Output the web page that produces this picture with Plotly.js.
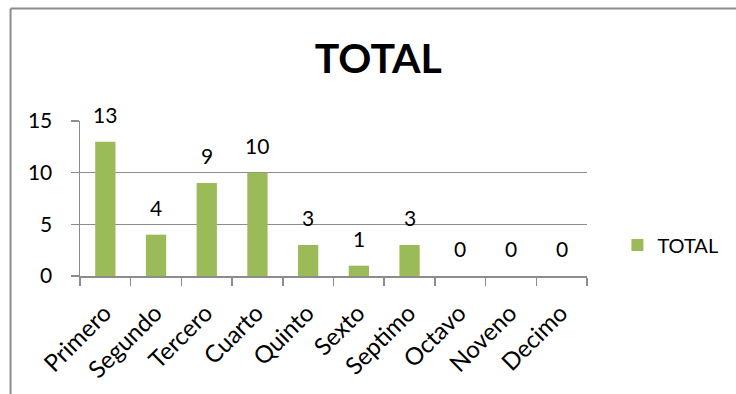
<!DOCTYPE html>
<html>
<head>
<meta charset="utf-8">
<script src="https://cdn.plot.ly/plotly-3.0.1.min.js"></script>
<style>
  html, body { margin: 0; padding: 0; background: #fff; }
  #chart { width: 736px; height: 394px; }
</style>
</head>
<body>
<div id="chart"></div>
<script>
// Students per course level
const categories = ["Primero", "Segundo", "Tercero", "Cuarto", "Quinto", "Sexto", "Septimo", "Octavo", "Noveno", "Decimo"];
const totals = [13, 4, 9, 10, 3, 1, 3, 0, 0, 0];
const seriesName = "TOTAL";
const chartTitle = "TOTAL";
const yTicks = [0, 5, 10, 15];

const FONT = "Lato, Carlito, 'Open Sans', sans-serif";
const GREEN = "#9bbb59";
const GRAY = "#8c8c8c";

const trace = {
  type: "bar",
  x: categories,
  y: totals,
  name: seriesName,
  marker: { color: GREEN },
  hoverinfo: "x+y"
};

// Value labels sitting above each bar
const labels = categories.map((c, i) => ({
  x: c,
  y: totals[i],
  xref: "x",
  yref: "y",
  text: String(totals[i]),
  showarrow: false,
  yanchor: "bottom",
  yshift: 13,
  font: { family: FONT, size: 21, color: "#000" }
}));

const layout = {
  width: 736,
  height: 394,
  margin: { l: 80, r: 149, t: 121, b: 118, pad: 0 },
  paper_bgcolor: "#fff",
  plot_bgcolor: "#fff",
  font: { family: FONT, size: 20, color: "#000" },
  title: {
    text: "<b>" + chartTitle + "</b>",
    font: { family: FONT, size: 41, color: "#000" },
    xref: "container",
    yref: "container",
    x: 0.514,
    xanchor: "center",
    y: 0.85,
    yanchor: "middle"
  },
  bargap: 0.6,
  xaxis: {
    type: "category",
    tickangle: -45,
    autotickangles: [-45],
    ticks: "outside",
    tickson: "boundaries",
    ticklen: 8,
    tickwidth: 1.5,
    tickcolor: GRAY,
    showline: true,
    linecolor: GRAY,
    linewidth: 1.5,
    showgrid: false,
    ticklabelstandoff: 12,
    ticklabelshift: -1,
    tickfont: { family: FONT, size: 24, color: "#000" },
    fixedrange: true
  },
  yaxis: {
    range: [0, 15],
    tickvals: yTicks,
    ticks: "outside",
    ticklen: 8,
    tickwidth: 1.5,
    tickcolor: GRAY,
    showline: true,
    linecolor: GRAY,
    linewidth: 1.5,
    showgrid: true,
    gridcolor: GRAY,
    gridwidth: 1.5,
    zeroline: false,
    ticklabelstandoff: 14,
    tickfont: { family: FONT, size: 21, color: "#000" },
    fixedrange: true
  },
  showlegend: true,
  legend: {
    x: 1.06,
    xanchor: "left",
    y: 0.2,
    yanchor: "middle",
    font: { family: FONT, size: 20, color: "#000" },
    bgcolor: "rgba(0,0,0,0)"
  },
  annotations: labels,
  // Chart frame: left and top border lines
  shapes: [
    { type: "line", xref: "paper", yref: "paper", x0: -0.137, x1: -0.137, y0: 1.726, y1: -0.8,
      line: { color: GRAY, width: 2 } },
    { type: "line", xref: "paper", yref: "paper", x0: -0.137, x1: 1.4, y0: 1.726, y1: 1.726,
      line: { color: GRAY, width: 2 } }
  ]
};

Plotly.newPlot("chart", [trace], layout, { displayModeBar: false, staticPlot: true });
</script>
</body>
</html>
